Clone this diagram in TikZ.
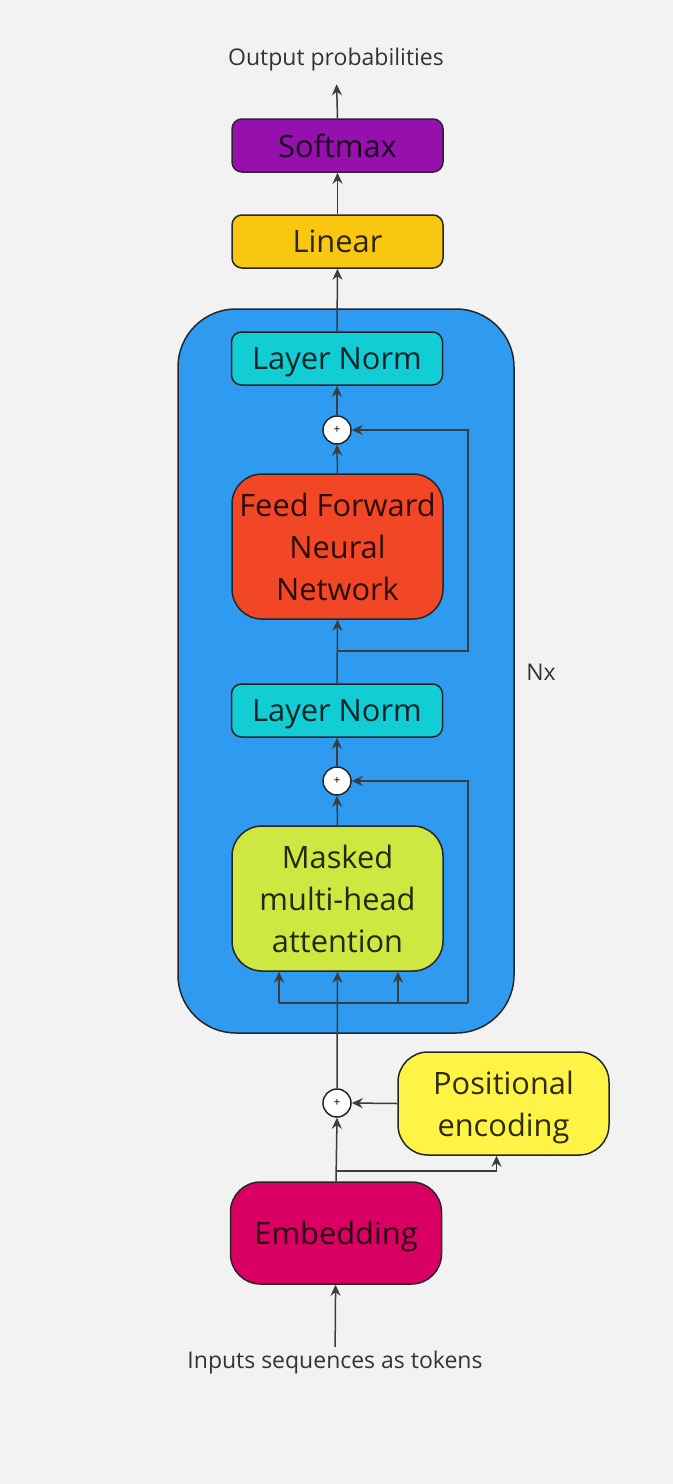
\documentclass[tikz,border=0pt]{standalone}
\usepackage{fontspec}
\setmainfont{Open Sans}
\usepackage{xcolor}
\usetikzlibrary{arrows.meta}
\usetikzlibrary{positioning}

\definecolor{pagebg}{HTML}{F2F2F2}
\definecolor{decblue}{HTML}{2E9BF0}
\definecolor{softpurple}{HTML}{9510AC}
\definecolor{linorange}{HTML}{FAC710}
\definecolor{normteal}{HTML}{12CDD4}
\definecolor{ffnred}{HTML}{F24726}
\definecolor{attlime}{HTML}{CEE741}
\definecolor{posyellow}{HTML}{FFF445}
\definecolor{embpink}{HTML}{DA0063}
\definecolor{linegray}{HTML}{3C3C3C}

\begin{document}
\begin{tikzpicture} [
	x=0.5pt, y=-0.5pt, % one unit is one pixel of the sketch
	->,  % every connector is directed
	>={Stealth[length=5.5pt, width=5pt]},
	line width=0.75pt,
	every path/.style={draw=linegray},
	block/.style={draw=black!85, rounded corners=5pt, minimum width=105.5pt,
		minimum height=26.5pt, align=center, font=\fontsize{15.4}{21}\selectfont,
		text=black, text opacity=0.82, inner sep=0pt, text depth=0pt},
	bigblock/.style={block, minimum height=72.5pt, rounded corners=15pt},
	addnode/.style={circle, draw=black!85, fill=white, minimum size=14pt,
		inner sep=0pt, font=\fontsize{6}{6}\selectfont},
	caption/.style={font=\fontsize{11.5}{14}\selectfont, text=black!80, inner sep=0pt},
	]
	% page and its margins
	\fill[pagebg, draw=none] (0,0) rectangle (673,1484);

	% the repeated decoder block
	\node[draw=black!85, fill=decblue, rounded corners=29pt, minimum width=168pt,
		minimum height=362pt] (decoder) at (346,671) {};
	\node[caption] (nx) at (541,672) {Nx};

	\node[caption, inner ysep=6pt] (out) at (336,60) {Output probabilities};
	\node[block, fill=softpurple] (soft) at (337.5,145.5) {Softmax};
	\node[block, fill=linorange] (lin) at (337.5,241.5) {Linear};
	\node[block, fill=normteal] (ln2) at (337,358.5) {Layer Norm};
	\node[addnode] (add1) at (337,430) {+};
	\node[bigblock, fill=ffnred, text depth={}] (ffn) at (337.5,546.5) {Feed Forward\\Neural\\Network};
	\node[block, fill=normteal] (ln1) at (337,710.5) {Layer Norm};
	\node[addnode] (add2) at (337,781) {+};
	\node[bigblock, fill=attlime, text depth={}] (mha) at (337.5,898.5) {Masked\\multi-head\\attention};
	\node[addnode] (add3) at (337,1103) {+};
	\node[bigblock, fill=posyellow, minimum height=51.5pt] (pe) at (503.5,1103.5) {Positional\\encoding};
	\node[bigblock, fill=embpink, minimum height=51pt] (emb) at (336,1233) {Embedding};
	\node[caption, inner ysep=2pt] (inp) at (335,1363) {Inputs sequences as tokens};

	% branch points
	\coordinate (split) at (337,1171);
	\coordinate (fl) at (279,1003);
	\coordinate (fm) at (398,1003);
	\coordinate (fr) at (468,1003);
	\coordinate (res2) at (337,651);
	\coordinate (res2r) at (468,651);

	\draw (inp) -- (emb);
	\draw (emb.north) -- (add3.south);
	\draw (split) -| ([xshift=-3.5pt]pe.south);
	\draw (pe.west) -- (add3.east);
	\draw (add3.north) -- (mha.south);

	\draw[-] (fl) -- (fr);
	\draw (fl) -- (fl |- mha.south);
	\draw (fm) -- (fm |- mha.south);
	\draw (fr) |- (add2.east);
	\draw (mha.north) -- (add2.south);
	\draw (add2.north) -- (ln1.south);

	\draw (ln1.north) -- (ffn.south);
	\draw (res2) -- (res2r) |- (add1.east);
	\draw (ffn.north) -- (add1.south);
	\draw (add1.north) -- (ln2.south);

	\draw (ln2.north) -- (lin.south);
	\draw (lin.north) -- (soft.south);
	\draw (soft.north) -- (out);
\end{tikzpicture}
\end{document}
